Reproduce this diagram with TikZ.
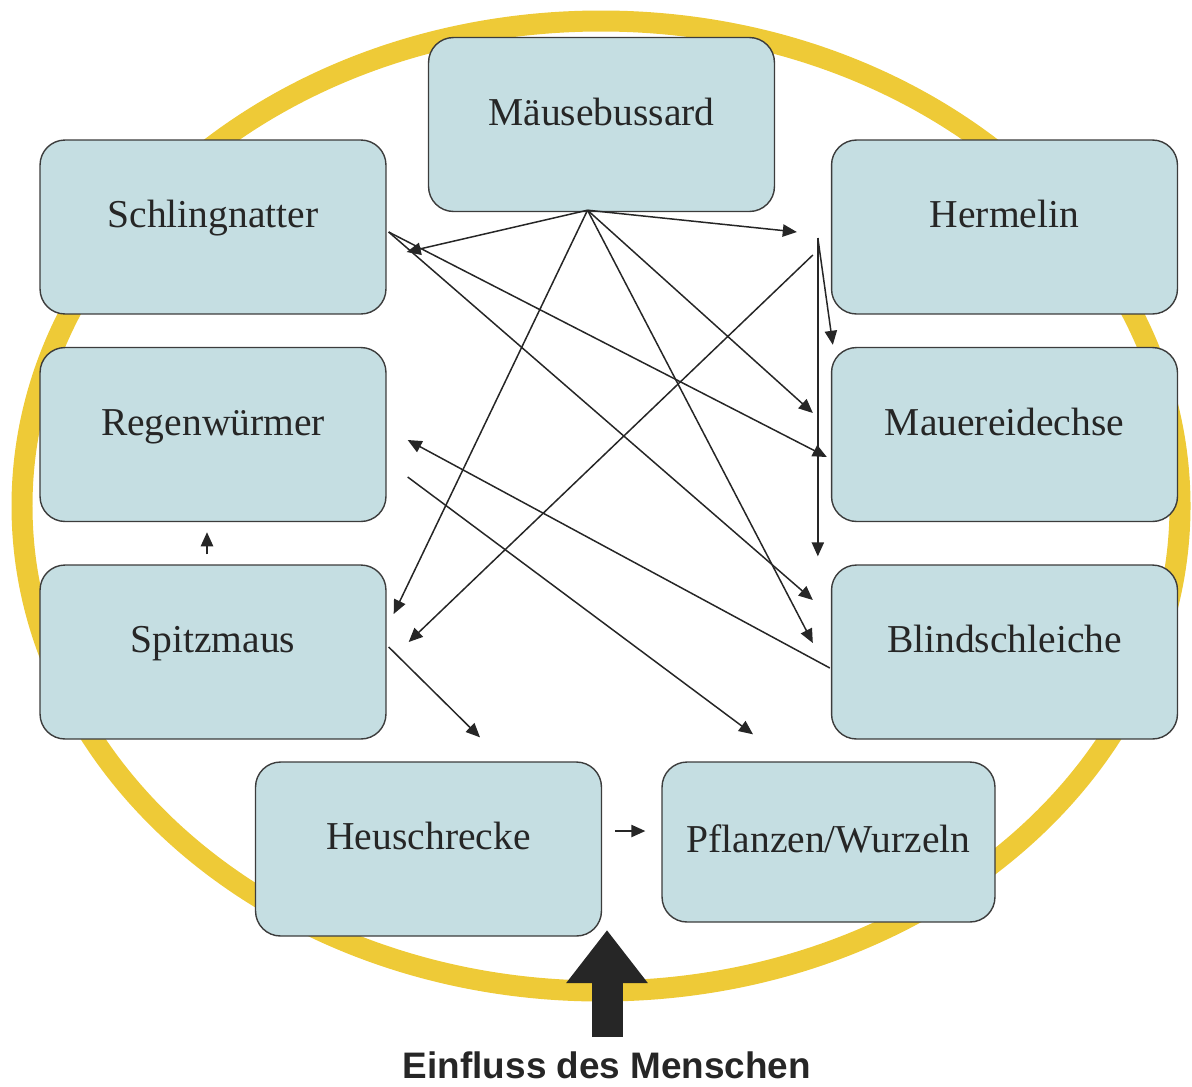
\documentclass[tikz,border=0pt]{standalone}
\usepackage{fontspec}
\setmainfont{Liberation Serif}
\newfontfamily\labelfont{Liberation Sans}
\usepackage{tikz}
\usetikzlibrary{calc, positioning, arrows.meta, shapes.misc}
\definecolor{Kasten}{RGB}{197,222,226}
\definecolor{Ring}{RGB}{238,202,55}
\definecolor{Rand}{RGB}{60,60,60}

\begin{document}
\begin{tikzpicture}[
  x=0.02cm, y=-0.02cm,
  font=\fontsize{22.5}{26}\selectfont,
  tier/.style={draw=Rand, rounded corners=0.5cm, minimum width=6.92cm,
               minimum height=3.48cm, align=center, fill=Kasten,
               line width=0.8pt, text=black!85,
               text height=14pt, text depth=13pt},
  arr/.style={-{Triangle[length=8pt, width=7pt]}, line width=0.85pt,
              draw=black!85},
  mensch/.style={font=\labelfont\bfseries\fontsize{21}{24}\selectfont,
                 text=black!85, inner sep=1pt}
]
\useasboundingbox (0,0) rectangle (1192,1086);

% gelber Ring
\draw[Ring, line width=0.42cm] (601,506) ellipse [x radius=579, y radius=485];

% Kaesten
\node[tier] (bussard)  at ( 601.5, 124.5) {Mäusebussard};
\node[tier] (schling)  at ( 213,   227)   {Schlingnatter};
\node[tier] (hermelin) at (1004.5, 227)   {Hermelin};
\node[tier] (regen)    at ( 213,   434.5) {Regenwürmer};
\node[tier] (mauer)    at (1004.5, 434.5) {Mauereidechse};
\node[tier] (spitz)    at ( 213,   652)   {Spitzmaus};
\node[tier] (blind)    at (1004.5, 652)   {Blindschleiche};
\node[tier] (heu)      at ( 428.5, 849)   {Heuschrecke};
\node[tier, minimum width=6.66cm, minimum height=3.2cm,
      text depth=2pt] (pflanzen) at (828.5, 842) {Pflanzen/Wurzeln};

% Nahrungsbeziehungen
\draw[arr] ($(bussard.south)+(-14,-2)$) -- ($(hermelin.west)+(-34,5)$);
\draw[arr] ($(bussard.south)+(-14,-2)$) -- ($(schling.east)+(20,25)$);
\draw[arr] ($(bussard.south)+(-14,-2)$) -- ($(spitz.east)+(7,-38)$);
\draw[arr] ($(bussard.south)+(-14,-2)$) -- ($(mauer.west)+(-18,-21.5)$);
\draw[arr] ($(bussard.south)+(-14,-2)$) -- ($(blind.west)+(-18,-9)$);

\draw[arr] ($(schling.east)+(2,5)$) -- ($(mauer.west)+(-4,22.5)$);
\draw[arr] ($(schling.east)+(2,5)$) -- ($(blind.west)+(-18,-52)$);

\draw[arr] ($(hermelin.west)+(-13,11)$) -- ($(mauer.north west)+(2,-2)$);
\draw[arr] ($(hermelin.west)+(-13,11)$) -- ($(blind.north west)+(-13,-8)$);
\draw[arr] ($(hermelin.west)+(-18,28)$) -- ($(spitz.east)+(22,-10)$);

\draw[arr] ($(blind.west)+(-1,16)$) -- ($(regen.east)+(21,5.5)$);
\draw[arr] ($(regen.east)+(21,42.5)$) -- ($(pflanzen.north)+(-75.5,-27)$);
\draw[arr] ($(spitz.east)+(2,-5)$) -- ($(heu.north)+(51.5,-24)$);
\draw[arr] ($(spitz.north)+(-6,-10)$) -- ($(regen.south)+(-6,10)$);
\draw[arr] ($(heu.east)+(13,-18)$) -- ($(pflanzen.west)+(-16,-11)$);

% Einfluss des Menschen
\node[mensch] (einfluss) at (607,1065) {Einfluss des Menschen};
\coordinate (fuss) at (607,1037);
\coordinate (ziel) at (607,930);
\draw[black!85, line width=0.62cm,
      -{Triangle[length=1.06cm, width=1.56cm]}] (fuss) -- (ziel);
\end{tikzpicture}
\end{document}
